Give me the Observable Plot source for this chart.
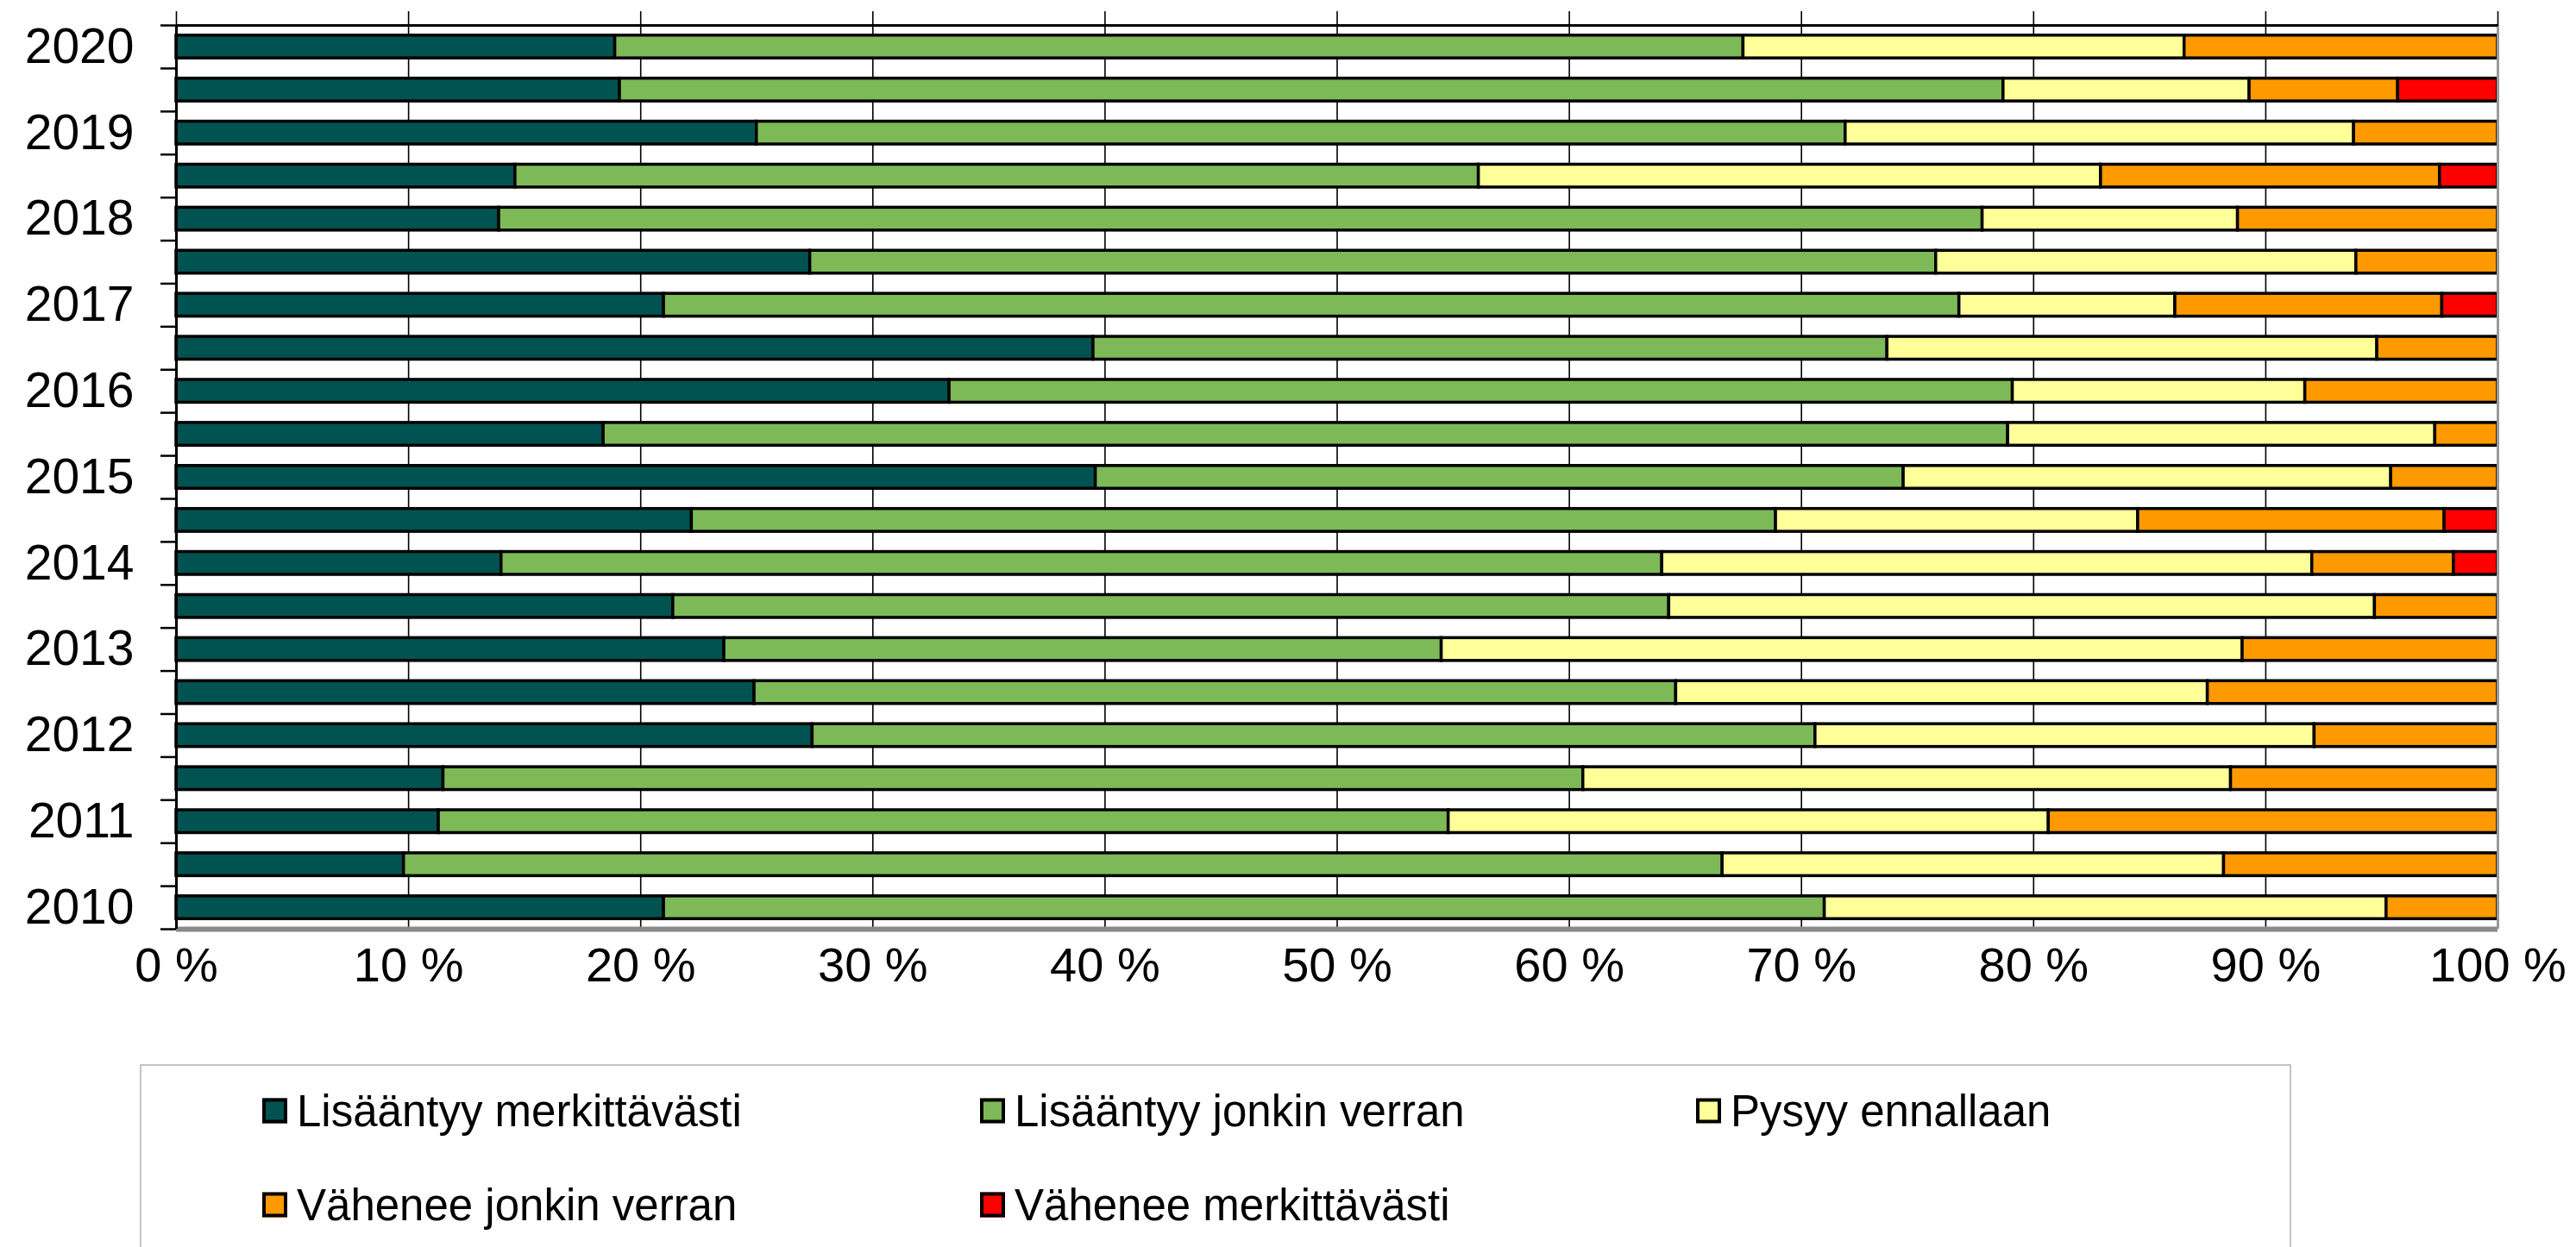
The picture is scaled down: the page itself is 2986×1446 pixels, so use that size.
<!DOCTYPE html>
<html><head><meta charset="utf-8">
<script src="https://cdn.jsdelivr.net/npm/d3@7"></script>
<script src="https://cdn.jsdelivr.net/npm/@observablehq/plot@0.6"></script>
<style>
html,body{margin:0;padding:0;background:#fff;overflow:hidden;width:2986px;height:1446px;}
#chart{position:absolute;left:0;top:0;}
#legend{position:absolute;left:162px;top:1234px;width:2494px;height:300px;border:2px solid #c4c4c4;box-sizing:border-box;font-family:"Liberation Sans",Arial,sans-serif;font-size:51px;color:#000;}
.item{position:absolute;display:flex;align-items:center;white-space:nowrap;transform:translateY(-50%);}
.sw{width:21px;height:21px;border:4px solid #000;margin-right:11px;flex:none;}
</style></head><body>
<div id="chart"></div><div id="legend"></div>
<script>
// Rows top to bottom
const periods = ["2020","2019/2","2019","2018/2","2018","2017/2","2017","2016/2","2016","2015/2","2015","2014/2","2014","2013/2","2013","2012/2","2012","2011/2","2011","2010/2","2010"];
const yearLabels = ["2020","2019","2018","2017","2016","2015","2014","2013","2012","2011","2010"];
const categories = ["Lisääntyy merkittävästi","Lisääntyy jonkin verran","Pysyy ennallaan","Vähenee jonkin verran","Vähenee merkittävästi"];
const colors = ["#015351","#7eb957","#ffff99","#ff9900","#ff0000"];
const xTicks = [0,10,20,30,40,50,60,70,80,90,100];
const xTickLabels = ["0 %","10 %","20 %","30 %","40 %","50 %","60 %","70 %","80 %","90 %","100 %"];

const lisaantyyMerkittavasti = [18.9, 19.1, 25.0, 14.6, 13.9, 27.3, 21.0, 39.5, 33.3, 18.4, 39.6, 22.2, 14.0, 21.4, 23.6, 24.9, 27.4, 11.5, 11.3, 9.8, 21.0];
const lisaantyyJonkinVerran = [48.6, 59.6, 46.9, 41.5, 63.9, 48.5, 55.8, 34.2, 45.8, 60.5, 34.8, 46.7, 50.0, 42.9, 30.9, 39.7, 43.2, 49.1, 43.5, 56.8, 50.0];
const pysyyEnnallaan = [19.0, 10.6, 21.9, 26.8, 11.0, 18.1, 9.3, 21.1, 12.6, 18.4, 21.0, 15.6, 28.0, 30.4, 34.5, 22.9, 21.5, 27.9, 25.85, 21.6, 24.2];
const vaheneeJonkinVerran = [13.5, 6.4, 6.2, 14.6, 11.2, 6.1, 11.5, 5.2, 8.3, 2.7, 4.6, 13.2, 6.1, 5.3, 11.0, 12.5, 7.9, 11.5, 19.35, 11.8, 4.8];
const vaheneeMerkittavasti = [0, 4.3, 0, 2.5, 0, 0, 2.4, 0, 0, 0, 0, 2.3, 1.9, 0, 0, 0, 0, 0, 0, 0, 0];

const series = [lisaantyyMerkittavasti, lisaantyyJonkinVerran, pysyyEnnallaan, vaheneeJonkinVerran, vaheneeMerkittavasti];

const table = [];
periods.forEach((p, i) => {
  let acc = 0;
  series.forEach((s, k) => {
    const v = s[i];
    if (v > 0) table.push({period: p, i, cat: categories[k], x1: acc, x2: acc + v});
    acc += v;
  });
});

const half = 0.265;
const boundaries = d3.range(periods.length + 1).map(k => k - 0.5);
const labelIdx = yearLabels.map(y => periods.indexOf(y));

const chart = Plot.plot({
  width: 2986, height: 1160,
  marginTop: 29, marginBottom: 83, marginLeft: 204, marginRight: 91,
  style: {fontFamily: "Liberation Sans, Arial, sans-serif", background: "#fff", color: "#000"},
  x: {domain: [0, 100], axis: null},
  y: {domain: [-0.5, periods.length - 0.5], reverse: true, axis: null},
  color: {domain: categories, range: colors},
  marks: [
    Plot.ruleX(xTicks, {stroke: "#000", strokeWidth: 1.6}),
    Plot.rectX(table, {x1: "x1", x2: "x2", y1: d => d.i - half, y2: d => d.i + half, fill: "cat", stroke: "#000", strokeWidth: 3.5}),
    Plot.ruleY([periods.length - 0.5], {stroke: "#8a8a8a", strokeWidth: 6}),
    Plot.ruleX([100], {stroke: "#9a9a9a", strokeWidth: 3}),
    Plot.ruleY([-0.5], {stroke: "#000", strokeWidth: 3}),
    Plot.ruleX([0], {stroke: "#000", strokeWidth: 3}),
    Plot.axisX({anchor: "top", ticks: xTicks, tickSize: 17, strokeWidth: 1.6, tickFormat: () => ""}),
    Plot.axisX({anchor: "bottom", ticks: xTicks, tickSize: 0, tickPadding: 21, fontSize: 56,
      tickFormat: d => xTickLabels[xTicks.indexOf(d)]}),
    Plot.axisY({anchor: "left", ticks: boundaries, tickSize: 18, strokeWidth: 2.5, tickFormat: () => ""}),
    Plot.axisY({anchor: "left", ticks: labelIdx, tickSize: 0, tickPadding: 49, fontSize: 57,
      tickFormat: i => periods[i]})
  ]
});
document.getElementById("chart").appendChild(chart);

// Legend
const legend = document.getElementById("legend");
const pos = [[140, 52], [972, 52], [1802, 52], [140, 161], [972, 161]];
categories.forEach((c, k) => {
  const it = document.createElement("div");
  it.className = "item";
  it.style.left = pos[k][0] + "px";
  it.style.top = pos[k][1] + "px";
  const sw = document.createElement("div");
  sw.className = "sw";
  sw.style.background = colors[k];
  const tx = document.createElement("span");
  tx.textContent = c;
  it.appendChild(sw); it.appendChild(tx);
  legend.appendChild(it);
});
</script>
</body></html>
